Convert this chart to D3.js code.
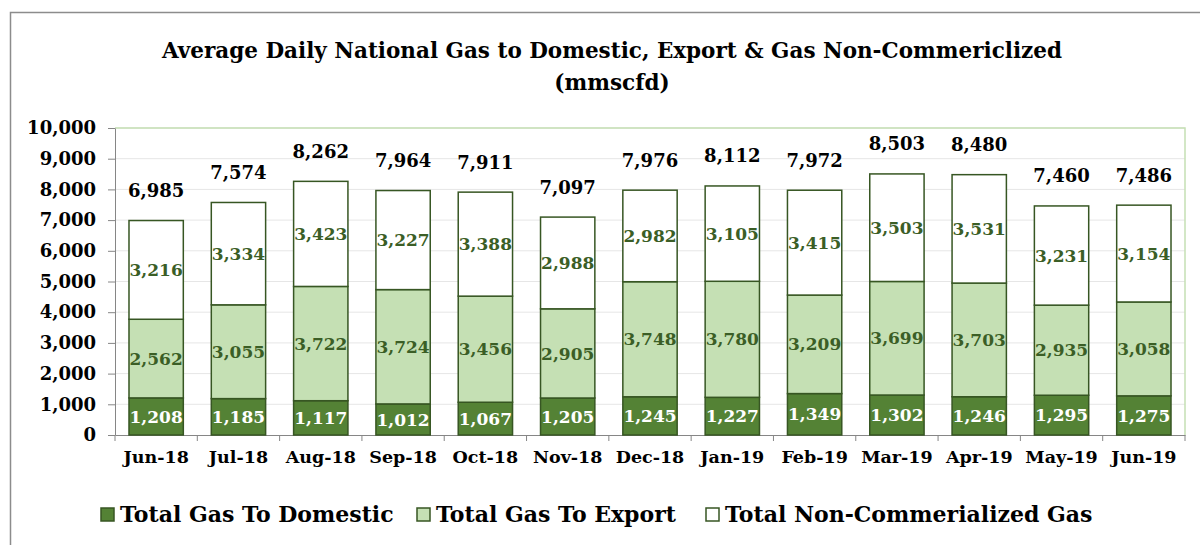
<!DOCTYPE html>
<html>
<head>
<meta charset="utf-8">
<script src="https://cdn.jsdelivr.net/npm/d3@7"></script>
<style>
  body { margin: 0; background: #fff; }
  svg text { font-family: "DejaVu Serif", serif; font-weight: bold; }
</style>
</head>
<body>
<svg id="chart" width="1200" height="545"></svg>
<script>
const months = ['Jun-18','Jul-18','Aug-18','Sep-18','Oct-18','Nov-18','Dec-18','Jan-19','Feb-19','Mar-19','Apr-19','May-19','Jun-19']
const domestic = [1208,1185,1117,1012,1067,1205,1245,1227,1349,1302,1246,1295,1275]
const exportGas = [2562,3055,3722,3724,3456,2905,3748,3780,3209,3699,3703,2935,3058]
const nonComm = [3216,3334,3423,3227,3388,2988,2982,3105,3415,3503,3531,3231,3154]
const totals = [6985,7574,8262,7964,7911,7097,7976,8112,7972,8503,8480,7460,7486]
const seriesNames = ['Total Gas To Domestic','Total Gas To Export','Total Non-Commerialized Gas']
const yTicks = [0,1000,2000,3000,4000,5000,6000,7000,8000,9000,10000]

const fills = ['#548235', '#c5e0b4', '#ffffff']
const labelColors = ['#ffffff', '#3b5e26', '#3b5e26']
const edge = '#375623'

let svg = d3.select('#chart')

// outer chart frame
svg.append('rect')
.attr('x', 10.5).attr('y', 12.5)
.attr('width', 1220).attr('height', 560)
.attr('fill', 'none')
.attr('stroke', '#8c8c8c')
.attr('stroke-width', 1.5)

let plotL = 115, plotR = 1185, plotT = 128, plotB = 435

let x = d3.scaleBand()
.domain(months)
.range([plotL, plotR])
.paddingInner(0.34)
.paddingOuter(0.17)

let y = d3.scaleLinear()
.domain([0, 10000])
.range([plotB, plotT])

let fmt = d3.format(',')

// title
svg.append('text')
.attr('x', 612).attr('y', 58)
.attr('text-anchor', 'middle')
.style('font-size', '21.5px')
.text('Average Daily National Gas to Domestic, Export & Gas Non-Commericlized')

svg.append('text')
.attr('x', 612).attr('y', 90)
.attr('text-anchor', 'middle')
.style('font-size', '21.5px')
.text('(mmscfd)')

// gridlines
svg.append('g')
.selectAll('line')
.data(yTicks.slice(1))
.join('line')
.attr('x1', plotL).attr('x2', plotR)
.attr('y1', d => y(d)).attr('y2', d => y(d))
.attr('stroke', '#e6e6e6')

// plot area border (light green)
svg.append('path')
.attr('d', `M${plotL},${plotT}H${plotR}V${plotB}`)
.attr('fill', 'none')
.attr('stroke', '#c5e0b4')
.attr('stroke-width', 1.5)

// y axis
let yaxis = svg.append('g')
.attr('class', 'yaxis')
.attr('transform', `translate(${plotL},0)`)
.call(d3.axisLeft(y).tickValues(yTicks).tickFormat(fmt).tickSizeInner(7).tickSizeOuter(0).tickPadding(12))

yaxis.selectAll('text').style('font-size', '18px').attr('fill', '#000')
yaxis.selectAll('line, path').attr('stroke', '#868686')

// x axis
let xaxis = svg.append('g')
.attr('class', 'xaxis')
.attr('transform', `translate(0,${plotB})`)
.call(d3.axisBottom(x).tickSize(0).tickPadding(16))

xaxis.select('.domain').attr('stroke', '#868686')
xaxis.selectAll('text').style('font-size', '17.5px').attr('fill', '#000')

// category separators under the axis
let step = x.step()
svg.append('g')
.selectAll('line')
.data(d3.range(months.length + 1))
.join('line')
.attr('x1', i => plotL + i * step).attr('x2', i => plotL + i * step)
.attr('y1', plotB).attr('y2', plotB + 6)
.attr('stroke', '#868686')

// stacked bars
let rows = months.map((m, i) => ({ month: m, s0: domestic[i], s1: exportGas[i], s2: nonComm[i] }))
let stack = d3.stack().keys(['s0', 's1', 's2'])(rows)

let layers = svg.append('g')
.selectAll('g')
.data(stack)
.join('g')

layers.selectAll('rect')
.data((d, k) => d.map(p => ({ p: p, k: k })))
.join('rect')
.attr('x', d => x(d.p.data.month))
.attr('width', x.bandwidth())
.attr('y', d => y(d.p[1]))
.attr('height', d => y(d.p[0]) - y(d.p[1]))
.attr('fill', d => fills[d.k])
.attr('stroke', edge)
.attr('stroke-width', 1.5)

layers.selectAll('text')
.data((d, k) => d.map(p => ({ p: p, k: k })))
.join('text')
.attr('x', d => x(d.p.data.month) + x.bandwidth() / 2)
.attr('y', d => (y(d.p[0]) + y(d.p[1])) / 2)
.attr('dy', '0.36em')
.attr('text-anchor', 'middle')
.attr('fill', d => labelColors[d.k])
.style('font-size', '17px')
.text(d => fmt(d.p[1] - d.p[0]))

// totals above the bars
svg.append('g')
.selectAll('text')
.data(months)
.join('text')
.attr('x', m => x(m) + x.bandwidth() / 2)
.attr('y', (m, i) => y(totals[i]) - 30)
.attr('dy', '0.36em')
.attr('text-anchor', 'middle')
.attr('fill', '#000')
.style('font-size', '18px')
.text((m, i) => fmt(totals[i]))

// legend
let legendX = [101, 417, 706]
let legend = svg.append('g')
.selectAll('g')
.data(seriesNames)
.join('g')
.attr('transform', (d, i) => `translate(${legendX[i]},508)`)

legend.append('rect')
.attr('width', 13).attr('height', 13)
.attr('fill', (d, i) => fills[i])
.attr('stroke', edge)
.attr('stroke-width', 1.5)

legend.append('text')
.attr('x', 19).attr('y', 6.5)
.attr('dy', '0.36em')
.style('font-size', '22px')
.text(d => d)
</script>
</body>
</html>
